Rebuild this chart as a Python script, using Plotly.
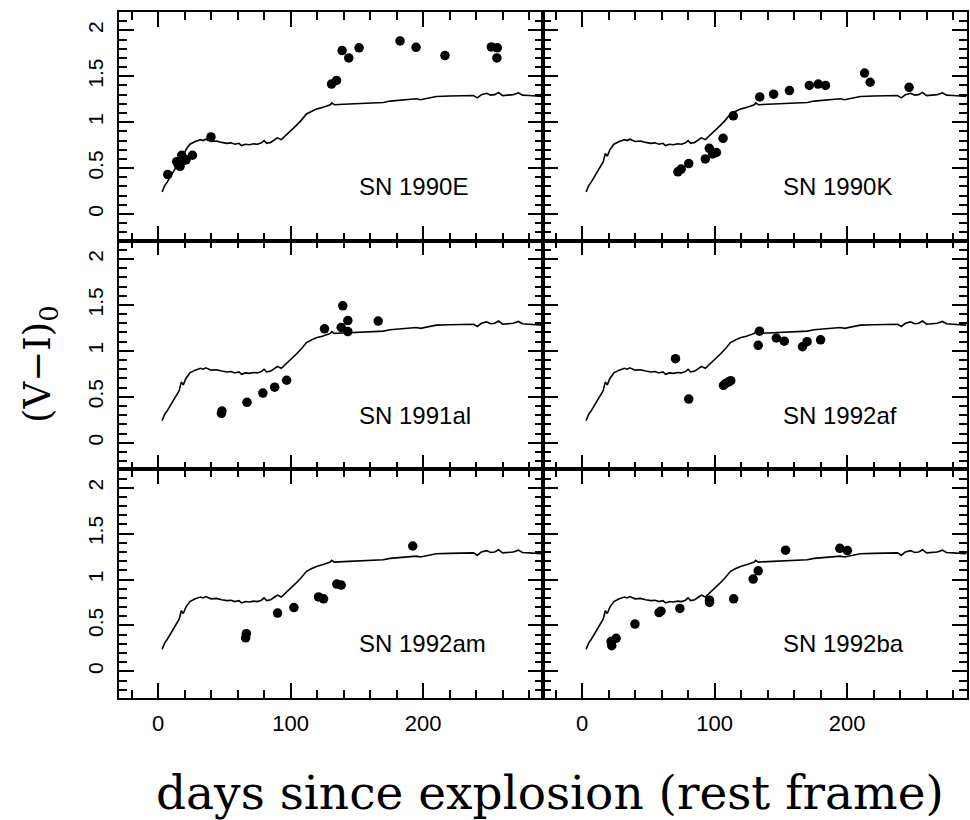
import plotly.graph_objects as go
from plotly.subplots import make_subplots

# ---- model template curve (same in every panel) ----
model_days = [3, 5, 7, 10, 13, 16, 17.5, 19, 21, 24, 28, 32, 34, 36, 40, 44, 48, 52, 55, 58,
              61, 63, 66, 69, 72, 75, 78, 80, 82, 85, 88, 90, 93, 96, 100, 104, 108, 112, 116,
              120, 124, 128, 130, 131, 133, 140, 150, 160, 170, 175, 180, 190, 195, 198, 205,
              210, 220, 230, 238, 241, 244, 248, 251, 254, 257, 260, 263, 268, 272, 275, 280,
              285, 290]
model_vi = [0.24, 0.31, 0.35, 0.42, 0.50, 0.57, 0.66, 0.63, 0.70, 0.76, 0.79, 0.81, 0.80, 0.815,
            0.79, 0.795, 0.78, 0.77, 0.775, 0.76, 0.77, 0.745, 0.76, 0.755, 0.765, 0.76, 0.775,
            0.80, 0.77, 0.78, 0.81, 0.83, 0.81, 0.85, 0.90, 0.96, 1.02, 1.09, 1.12, 1.145, 1.16,
            1.175, 1.19, 1.21, 1.19, 1.195, 1.20, 1.21, 1.215, 1.23, 1.235, 1.25, 1.255, 1.245,
            1.27, 1.28, 1.285, 1.29, 1.29, 1.265, 1.30, 1.315, 1.295, 1.30, 1.325, 1.29, 1.295,
            1.30, 1.32, 1.295, 1.29, 1.285, 1.28]

# ---- observed supernovae ----
sn_names = ["SN 1990E", "SN 1990K", "SN 1991al", "SN 1992af", "SN 1992am", "SN 1992ba"]

sn1990E_days = [7.3, 14.1, 15.3, 16.6, 18.6, 21.1, 17.8, 25.9, 39.9, 130.9, 134.7, 138.9, 143.9,
                151.7, 182.6, 194.7, 216.5, 251.5, 256.0, 255.7]
sn1990E_vi = [0.43, 0.57, 0.535, 0.52, 0.58, 0.59, 0.64, 0.64, 0.84, 1.415, 1.455, 1.78, 1.70,
              1.81, 1.885, 1.815, 1.725, 1.82, 1.81, 1.70]

sn1990K_days = [72.3, 74.8, 80.5, 93.0, 96.0, 98.5, 101.4, 106.4, 114.1, 134.1, 144.6, 156.5,
                171.5, 178.2, 183.7, 213.2, 217.4, 246.8]
sn1990K_vi = [0.46, 0.49, 0.55, 0.60, 0.715, 0.655, 0.67, 0.825, 1.07, 1.275, 1.305, 1.345,
              1.40, 1.415, 1.40, 1.535, 1.435, 1.38]

sn1991al_days = [47.8, 48.2, 67.1, 79.1, 88.0, 97.0, 125.6, 139.4, 138.2, 143.2, 143.2, 166.1]
sn1991al_vi = [0.32, 0.345, 0.44, 0.54, 0.605, 0.68, 1.24, 1.49, 1.255, 1.33, 1.21, 1.325]

sn1992af_days = [70.5, 80.5, 106.7, 108.4, 110.4, 112.2, 133.9, 132.9, 146.6, 152.6, 166.3,
                 169.8, 180.0]
sn1992af_vi = [0.915, 0.475, 0.625, 0.645, 0.66, 0.675, 1.215, 1.06, 1.14, 1.105, 1.045, 1.10,
               1.12]

sn1992am_days = [66.6, 66.1, 90.2, 102.5, 121.1, 124.9, 134.9, 138.2, 192.2]
sn1992am_vi = [0.41, 0.365, 0.635, 0.695, 0.81, 0.79, 0.95, 0.94, 1.365]

sn1992ba_days = [22.4, 21.9, 25.7, 39.9, 58.1, 59.5, 73.8, 96.2, 96.2, 114.4, 129.1, 132.9,
                 153.6, 194.5, 200.2]
sn1992ba_vi = [0.28, 0.325, 0.36, 0.515, 0.64, 0.655, 0.685, 0.775, 0.75, 0.79, 1.005, 1.095,
               1.32, 1.34, 1.315]

sn_days = [sn1990E_days, sn1990K_days, sn1991al_days, sn1992af_days, sn1992am_days, sn1992ba_days]
sn_vi = [sn1990E_vi, sn1990K_vi, sn1991al_vi, sn1992af_vi, sn1992am_vi, sn1992ba_vi]

x_tickvals = [0, 100, 200]
y_tickvals = [0, 0.5, 1, 1.5, 2]
y_ticktext = ["0", "0.5", "1", "1.5", "2"]

fig = make_subplots(rows=3, cols=2, horizontal_spacing=0, vertical_spacing=0)

for i, name in enumerate(sn_names):
    r = i // 2 + 1
    c = i % 2 + 1
    fig.add_trace(go.Scatter(x=model_days, y=model_vi, mode="lines",
                             line=dict(color="black", width=1.6), showlegend=False,
                             hoverinfo="skip"), row=r, col=c)
    fig.add_trace(go.Scatter(x=sn_days[i], y=sn_vi[i], mode="markers",
                             marker=dict(color="black", size=9.5, symbol="circle",
                                         line=dict(width=0)),
                             name=name, showlegend=False), row=r, col=c)
    fig.add_annotation(x=150, y=0.3, xanchor="left", yanchor="middle", text=name,
                       showarrow=False, font=dict(family="Liberation Sans, Arial", size=24,
                                                  color="black"),
                       row=r, col=c)

    fig.update_xaxes(row=r, col=c, range=[-29.5, 290.5], showline=True, linecolor="black",
                     linewidth=1.6, mirror="allticks", ticks="inside", ticklen=15,
                     tickwidth=1.8, tickcolor="black", tickvals=x_tickvals,
                     showticklabels=(r == 3), showgrid=False, zeroline=False,
                     automargin=False,
                     tickfont=dict(family="Liberation Sans, Arial", size=22, color="black"),
                     ticklabelstandoff=5,
                     minor=dict(ticks="inside", ticklen=8, tickwidth=1.6, tickcolor="black",
                                dtick=20, tick0=0, showgrid=False))
    fig.update_yaxes(row=r, col=c, range=[-0.29, 2.2], showline=True, linecolor="black",
                     linewidth=1.6, mirror="allticks", ticks="inside", ticklen=15,
                     tickwidth=1.8, tickcolor="black", tickvals=y_tickvals,
                     ticktext=y_ticktext, tickangle=-90,
                     showticklabels=(c == 1), showgrid=False, zeroline=False,
                     automargin=False,
                     tickfont=dict(family="Liberation Sans, Arial", size=21, color="black"),
                     ticklabelstandoff=6,
                     minor=dict(ticks="inside", ticklen=8, tickwidth=1.6, tickcolor="black",
                                dtick=0.1, tick0=0, showgrid=False))

fig.add_annotation(xref="paper", yref="paper", x=(40 - 119) / 848, y=(698 - 364) / 686,
                   text="(V\u2212I)<sub>0</sub>", textangle=-90, showarrow=False,
                   xanchor="center", yanchor="middle",
                   font=dict(family="DejaVu Serif", size=37, color="black"))
fig.add_annotation(xref="paper", yref="paper", x=(550 - 119) / 848, y=(698 - 792) / 686,
                   text="days since explosion (rest frame)", showarrow=False,
                   xanchor="center", yanchor="middle",
                   font=dict(family="DejaVu Serif", size=47, color="black"))

fig.update_layout(width=970, height=820, margin=dict(l=119, r=3, t=12, b=122),
                  paper_bgcolor="white", plot_bgcolor="white", showlegend=False)

fig.write_html("out.html", config={"displayModeBar": False},
               post_script="document.body.style.margin='0px';document.body.style.overflow='hidden';")
